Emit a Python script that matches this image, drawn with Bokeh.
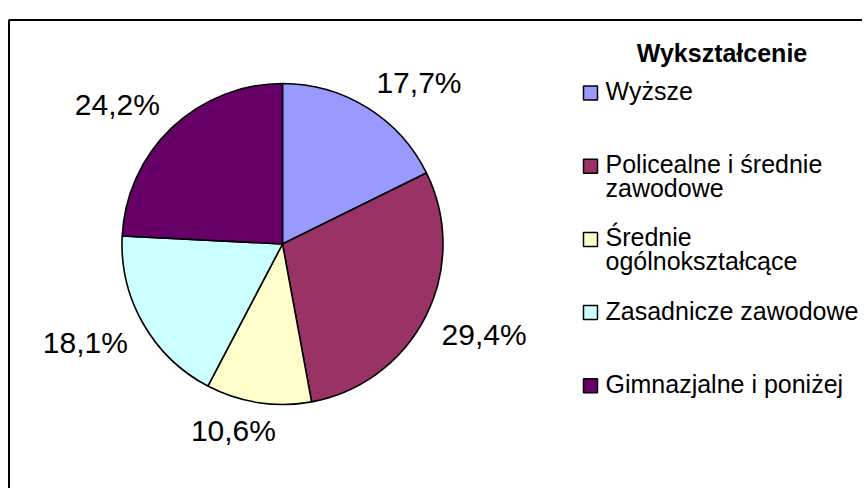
import math
import textwrap
import numpy as np
from bokeh.plotting import figure
from bokeh.models import Range1d, ColumnDataSource
from bokeh.core.properties import value
from bokeh.embed import file_html
from bokeh.resources import INLINE

# ---- data ----
categories = ["Wyższe", "Policealne i średnie zawodowe", "Średnie ogólnokształcące",
              "Zasadnicze zawodowe", "Gimnazjalne i poniżej"]
shares = [17.7, 29.4, 10.6, 18.1, 24.2]
colors = ["#9999FF", "#993366", "#FFFFCC", "#CCFFFF", "#660066"]
legend_title = "Wykształcenie"

FONT = "Liberation Sans"
W, H = 862, 488

# ---- figure in page-pixel coordinates (x = page x, y = -page y) ----
p = figure(width=W, height=H, x_range=Range1d(0, W), y_range=Range1d(-H, 0),
           output_backend="svg", toolbar_location=None, min_border=0)
p.axis.visible = False
p.grid.visible = False
p.outline_line_color = None
p.background_fill_color = "white"
p.border_fill_color = "white"

# chart-area frame (left and top edges visible, the rest lies outside the window)
p.line([8.5, 8.5, W], [-H, -19.5, -19.5], line_color="black", line_width=2)

# ---- pie ----
cx, cy, r = 282.0, -243.5, 160.5
vals = np.array(shares, dtype=float)
cum = np.concatenate([[0.0], np.cumsum(vals)]) / vals.sum()
start = math.pi / 2 - 2 * math.pi * cum[1:]
end = math.pi / 2 - 2 * math.pi * cum[:-1]
src = ColumnDataSource(dict(start=start, end=end, color=colors))
p.wedge(x=cx, y=cy, radius=r, start_angle="start", end_angle="end", direction="anticlock",
        fill_color="color", line_color="black", line_width=1.6, source=src)

# ---- percentage labels ----
lab_size = 30
lab_w, lab_h = 85.0, 21.5
R = r + 17.5
mid = math.pi * (cum[:-1] + cum[1:])  # clockwise from top
lx, ly, lt = [], [], []
for m, v in zip(mid, shares):
    s, c = math.sin(m), math.cos(m)
    px, py = cx + R * s, cy + R * c
    f = min(max((1 - 3.5 * s) / 2, 0), 1)
    g = min(max((1 + 3.5 * c) / 2, 0), 1)
    lx.append(px + (0.5 - f) * lab_w)
    ly.append(py - (0.5 - g) * lab_h)
    lt.append(f"{v:.1f}%".replace(".", ","))
p.text(x=lx, y=ly, text=lt, text_font=value(FONT), text_font_size=f"{lab_size}px",
       text_align="center", text_baseline="middle", text_color="black")

# ---- legend ----
leg_size = 25
p.text(x=[721.5], y=[-52], text=[legend_title], text_font=value(FONT),
       text_font_size=f"{leg_size}px", text_font_style="bold",
       text_align="center", text_baseline="middle", text_color="black")

sq_x, sq_size, txt_x = 590.0, 14, 605.0
first_cap, step, line_gap = 90.5, 73.2, 23.5
tx, ty, tt = [], [], []
sqy = []
for i, name in enumerate(categories):
    capc = first_cap + step * i
    sqy.append(-(capc + 2))
    for j, line in enumerate(textwrap.wrap(name, width=21)):
        tx.append(txt_x)
        ty.append(-(capc + j * line_gap))
        tt.append(line)
p.rect(x=[sq_x] * len(categories), y=sqy, width=sq_size, height=sq_size,
       fill_color=colors, line_color="black", line_width=1.5)
p.text(x=tx, y=ty, text=tt, text_font=value(FONT), text_font_size=f"{leg_size}px",
       text_align="left", text_baseline="middle", text_color="black")

open("out.html", "w").write(file_html(p, INLINE))
